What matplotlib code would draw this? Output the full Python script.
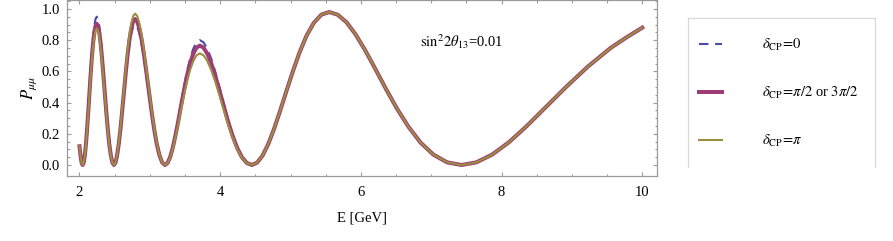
import matplotlib
import matplotlib.pyplot as plt
from matplotlib.lines import Line2D
import numpy as np

matplotlib.use('Agg')

# energies [GeV], up to the first minimum above 4 GeV
energy_low = [2.000, 2.0072, 2.0145, 2.0294, 2.0446, 2.0599, 2.0755, 2.0913, 2.1073,
              2.1236, 2.1402, 2.1570, 2.1741, 2.1914, 2.2091, 2.2270, 2.2452, 2.2637,
              2.2826, 2.3018, 2.3213, 2.3411, 2.3613, 2.3818, 2.4027, 2.4239, 2.4456,
              2.4676, 2.490, 2.5126, 2.535, 2.5589, 2.583, 2.6069, 2.632, 2.6567,
              2.682, 2.7086, 2.735, 2.7624, 2.790, 2.8213, 2.853, 2.8856, 2.919,
              2.9529, 2.988, 3.0234, 3.060, 3.0974, 3.136, 3.1751, 3.215, 3.2516,
              3.289, 3.3265, 3.365, 3.4047, 3.445, 3.4869, 3.529, 3.5731, 3.618,
              3.6635, 3.711, 3.7627, 3.816, 3.8715, 3.928, 3.9867, 4.047, 4.109,
              4.173, 4.2391, 4.307, 4.3777]
# above 4.45 GeV the three curves lie on top of each other
energy_high = [4.450, 4.5251, 4.602, 4.6823, 4.765, 4.8506, 4.939, 5.0317, 5.127,
               5.2266, 5.330, 5.4375, 5.549, 5.6689, 5.794, 5.9242, 6.061, 6.2035,
               6.353, 6.5104, 6.676, 6.8493, 7.032, 7.2254, 7.430, 7.642, 7.867,
               8.105, 8.359, 8.629, 8.917, 9.223, 9.550, 9.770, 10.000]
p_high = [0.0, 0.015, 0.06, 0.133, 0.23, 0.345, 0.47, 0.598, 0.72,
          0.828, 0.91, 0.963, 0.98, 0.963, 0.915, 0.837, 0.735, 0.617,
          0.49, 0.363, 0.245, 0.143, 0.066, 0.017, 0.0, 0.017, 0.067,
          0.146, 0.25, 0.371, 0.50, 0.629, 0.75, 0.816, 0.88]

# survival probability P_mumu below 4.45 GeV, one list per delta_CP
p_d0_low = [0.12, 0.09, 0.06, 0.015, 0.0, 0.016, 0.064, 0.139, 0.238,
            0.352, 0.475, 0.598, 0.713, 0.811, 0.886, 0.934, 0.95, 0.934,
            0.886, 0.811, 0.713, 0.598, 0.475, 0.352, 0.238, 0.139, 0.064,
            0.016, 0.0, 0.015, 0.06, 0.132, 0.225, 0.334, 0.45, 0.566,
            0.675, 0.768, 0.84, 0.885, 0.90, 0.885, 0.84, 0.768, 0.675,
            0.566, 0.45, 0.334, 0.225, 0.132, 0.06, 0.015, 0.0, 0.014,
            0.054, 0.117, 0.20, 0.296, 0.40, 0.504, 0.60, 0.683, 0.746,
            0.786, 0.80, 0.786, 0.746, 0.683, 0.60, 0.504, 0.40, 0.296,
            0.20, 0.117, 0.054, 0.014]
p_dhalf_low = [0.12, 0.09, 0.06, 0.015, 0.0, 0.015, 0.061, 0.132, 0.226,
               0.335, 0.452, 0.570, 0.679, 0.773, 0.844, 0.890, 0.905, 0.890,
               0.844, 0.773, 0.679, 0.570, 0.452, 0.335, 0.226, 0.132, 0.061,
               0.015, 0.0, 0.016, 0.063, 0.137, 0.234, 0.347, 0.468, 0.588,
               0.70, 0.798, 0.872, 0.919, 0.935, 0.919, 0.872, 0.798, 0.70,
               0.588, 0.468, 0.347, 0.234, 0.137, 0.063, 0.016, 0.0, 0.013,
               0.051, 0.112, 0.191, 0.283, 0.383, 0.481, 0.574, 0.653, 0.714,
               0.752, 0.765, 0.752, 0.714, 0.653, 0.574, 0.481, 0.383, 0.283,
               0.191, 0.112, 0.051, 0.013]
p_dpi_low = [0.12, 0.09, 0.06, 0.015, 0.0, 0.015, 0.059, 0.128, 0.219,
             0.324, 0.438, 0.551, 0.656, 0.747, 0.816, 0.860, 0.875, 0.860,
             0.816, 0.747, 0.656, 0.551, 0.438, 0.324, 0.219, 0.128, 0.059,
             0.015, 0.0, 0.016, 0.065, 0.142, 0.243, 0.359, 0.485, 0.611,
             0.728, 0.828, 0.905, 0.954, 0.97, 0.954, 0.905, 0.828, 0.728,
             0.611, 0.485, 0.359, 0.243, 0.142, 0.065, 0.016, 0.0, 0.012,
             0.048, 0.105, 0.179, 0.265, 0.358, 0.450, 0.536, 0.610, 0.667,
             0.703, 0.715, 0.703, 0.667, 0.610, 0.536, 0.450, 0.358, 0.265,
             0.179, 0.105, 0.048, 0.012]

labels = [r'$\delta_{\mathrm{CP}}\!=\!0$',
          r'$\delta_{\mathrm{CP}}\!=\!\pi/2$ or $3\pi/2$',
          r'$\delta_{\mathrm{CP}}\!=\!\pi$']

BLUE = '#4b4ba3'
MAGENTA = '#9c3d73'
OLIVE = '#9c8e3f'
FRAME = '#9a9a9a'

plt.rcParams['font.family'] = ['Liberation Serif', 'DejaVu Serif']
plt.rcParams['mathtext.fontset'] = 'stix'
plt.rcParams['font.size'] = 10.5

energy = energy_low + energy_high

fig = plt.figure(figsize=(8.93, 2.41), dpi=100)
ax = fig.add_axes([0.075, 0.2697, 0.6607, 0.7283])

ax.plot(energy, p_d0_low + p_high, color=BLUE, lw=1.5, dashes=(4.5, 3.2),
        label=labels[0], zorder=2)
ax.plot(energy, p_dhalf_low + p_high, color=MAGENTA, lw=2.9, label=labels[1], zorder=3)
ax.plot(energy, p_dpi_low + p_high, color=OLIVE, lw=1.5, label=labels[2], zorder=4)

ax.set_xlim(1.822, 10.209)
ax.set_ylim(-0.0705, 1.054)
ax.set_xticks([2, 4, 6, 8, 10])
ax.set_xticks(np.arange(2, 10.01, 0.5), minor=True)
ax.set_yticks([0.0, 0.2, 0.4, 0.6, 0.8, 1.0])
ax.set_yticks(np.arange(0, 1.051, 0.05), minor=True)
ax.set_yticklabels(['0.0', '0.2', '0.4', '0.6', '0.8', '1.0'])
ax.tick_params(which='both', direction='in', top=True, right=True, color=FRAME, width=0.8)
ax.tick_params(which='major', length=3.2)
ax.tick_params(which='minor', length=1.8)
ax.tick_params(axis='x', pad=7)
ax.tick_params(axis='y', pad=5)
for s in ax.spines.values():
    s.set_color(FRAME)
    s.set_linewidth(0.9)

ax.set_xlabel('E [GeV]', labelpad=9)
ax.set_ylabel(r'$P_{\mu\mu}$', labelpad=2, fontsize=12)
ax.text(6.84, 0.79, r'$\mathrm{sin}^2 2\theta_{13}$=0.01', va='center', ha='left')

# legend: box open at the bottom, like the clipped original
leg = fig.legend(loc='upper left', bbox_to_anchor=(693 / 893, 1 - 31 / 241), frameon=False,
                 handlelength=1.6, handletextpad=2.75, labelspacing=2.2, borderaxespad=0,
                 fontsize=10.5)
bx0, bx1, by0, by1 = 688 / 893, 875 / 893, 1 - 167 / 241, 1 - 18 / 241
for xs, ys in [([bx0, bx0], [by0, by1]), ([bx0, bx1], [by1, by1]), ([bx1, bx1], [by1, by0])]:
    fig.add_artist(Line2D(xs, ys, transform=fig.transFigure, color='#d8d8d8', lw=0.9))

fig.savefig('out.png', dpi=100)
